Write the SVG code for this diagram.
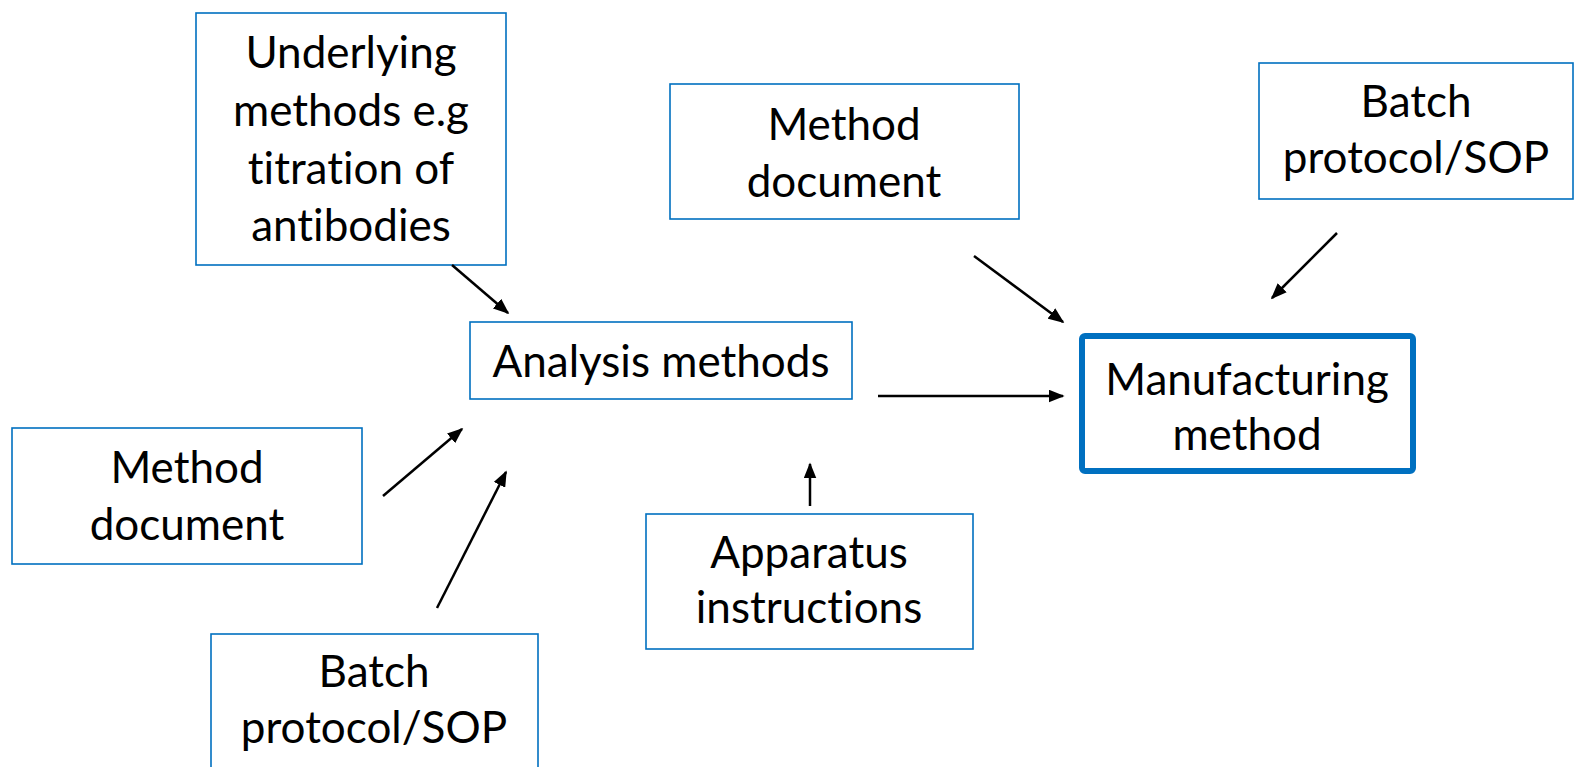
<svg xmlns="http://www.w3.org/2000/svg" width="1576" height="767" viewBox="0 0 1576 767">
<style>
.box{fill:#fff;stroke:#0070C0;stroke-width:1.6}
.main{fill:#fff;stroke:#0070C0;stroke-width:6}
text{font-family:Lato,"Noto Sans",sans-serif;font-size:44px;fill:#000;text-anchor:middle;font-variant-ligatures:none;font-feature-settings:"liga" 0,"clig" 0}
.arr{stroke:#000;stroke-width:2.5;fill:none;marker-end:url(#ah)}
</style>
<defs>
<marker id="ah" viewBox="0 0 10 8" refX="9" refY="4" markerWidth="16" markerHeight="13" markerUnits="userSpaceOnUse" orient="auto">
<path d="M0,0 L10,4 L0,8 z" fill="#000"/>
</marker>
</defs>
<rect width="1576" height="767" fill="#fff"/>
<g id="underlying">
<rect class="box" x="196" y="13" width="310" height="252"/>
<text x="351" y="68">Underlying</text>
<text x="351" y="126">methods e.g</text>
<text x="351" y="184">titration of</text>
<text x="351" y="241">antibodies</text>
</g>
<g id="method-doc-top">
<rect class="box" x="670" y="84" width="349" height="135"/>
<text x="844" y="140">Method</text>
<text x="844" y="197">document</text>
</g>
<g id="batch-top">
<rect class="box" x="1259" y="63" width="314" height="136"/>
<text x="1416" y="117">Batch</text>
<text x="1416" y="173">protocol/SOP</text>
</g>
<g id="analysis">
<rect class="box" x="470" y="322" width="382" height="77"/>
<text x="661" y="377">Analysis methods</text>
</g>
<g id="manufacturing">
<rect class="main" x="1082" y="336" width="331" height="135" rx="3"/>
<text x="1247" y="395">Manufacturing</text>
<text x="1247" y="450">method</text>
</g>
<g id="method-doc-left">
<rect class="box" x="12" y="428" width="350" height="136"/>
<text x="187" y="483">Method</text>
<text x="187" y="540">document</text>
</g>
<g id="batch-bottom">
<rect class="box" x="211" y="634" width="327" height="150"/>
<text x="374" y="687">Batch</text>
<text x="374" y="743">protocol/SOP</text>
</g>
<g id="apparatus">
<rect class="box" x="646" y="514" width="327" height="135"/>
<text x="809" y="568">Apparatus</text>
<text x="809" y="623">instructions</text>
</g>
<g id="connectors">
<line class="arr" x1="452" y1="265" x2="508" y2="313"/>
<line class="arr" x1="383" y1="496" x2="462" y2="429"/>
<line class="arr" x1="437" y1="608" x2="506" y2="472"/>
<line class="arr" x1="878" y1="396" x2="1063" y2="396"/>
<line class="arr" x1="810" y1="506" x2="810" y2="464"/>
<line class="arr" x1="974" y1="256" x2="1063" y2="322"/>
<line class="arr" x1="1337" y1="233" x2="1272" y2="298"/>
</g>
</svg>
